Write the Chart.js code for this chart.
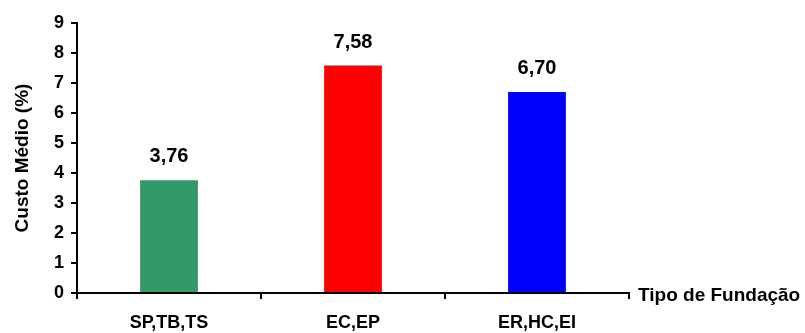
<!DOCTYPE html>
<html>
<head>
<meta charset="utf-8">
<script src="https://cdn.jsdelivr.net/npm/chart.js@4.4.0/dist/chart.umd.min.js"></script>
<style>
  html, body { margin: 0; padding: 0; background: #fff; }
  #wrap { width: 805px; height: 333px; position: relative; }
</style>
</head>
<body>
<div id="wrap"><canvas id="myChart" width="805" height="333"></canvas></div>
<script>
const categories = ['SP,TB,TS', 'EC,EP', 'ER,HC,EI'];
const custoMedio = [3.76, 7.58, 6.70];
const barColors = ['#339966', '#ff0000', '#0000ff'];
const yTicks = [0, 1, 2, 3, 4, 5, 6, 7, 8, 9];
const yTitle = 'Custo Médio (%)';
const xTitle = 'Tipo de Fundação';

const FONT = 'Arial, "Liberation Sans", sans-serif';

const valueLabels = {
    id: 'valueLabels',
    afterDatasetsDraw(chart) {
        const ctx = chart.ctx;
        const meta = chart.getDatasetMeta(0);
        ctx.save();
        ctx.font = 'bold 20px ' + FONT;
        ctx.fillStyle = '#000';
        ctx.textAlign = 'center';
        ctx.textBaseline = 'alphabetic';
        meta.data.forEach(function(bar, i) {
            const txt = custoMedio[i].toFixed(2).replace('.', ',');
            ctx.fillText(txt, bar.x, bar.y - 18);
        });
        ctx.restore();
    }
};

const xAxisTitle = {
    id: 'xAxisTitle',
    afterDraw(chart) {
        const ctx = chart.ctx;
        const area = chart.chartArea;
        ctx.save();
        ctx.font = 'bold 19px ' + FONT;
        ctx.fillStyle = '#000';
        ctx.textAlign = 'left';
        ctx.textBaseline = 'middle';
        ctx.fillText(xTitle, area.right + 9, area.bottom + 3);
        ctx.restore();
    }
};

new Chart(document.getElementById('myChart').getContext('2d'), {
    type: 'bar',
    data: {
        labels: categories,
        datasets: [{
            data: custoMedio,
            backgroundColor: barColors,
            borderWidth: 0,
            categoryPercentage: 1,
            barPercentage: 0.314
        }]
    },
    options: {
        responsive: false,
        animation: false,
        devicePixelRatio: 1,
        layout: { padding: { top: 23, right: 176, left: 0, bottom: 0 } },
        plugins: {
            legend: { display: false },
            tooltip: { enabled: false }
        },
        scales: {
            x: {
                grid: { drawOnChartArea: false, drawTicks: true, tickLength: 6, color: '#000', lineWidth: 2, offset: true },
                border: { display: true, color: '#000', width: 2 },
                ticks: { color: '#000', font: { family: FONT, size: 18, weight: 'bold' }, padding: 13, maxRotation: 0 },
                afterFit(scale) { scale.height = 40; }
            },
            y: {
                min: 0,
                max: 9,
                afterBuildTicks(scale) { scale.ticks = yTicks.map(v => ({ value: v })); },
                grid: { drawOnChartArea: false, drawTicks: true, tickLength: 6, color: '#000', lineWidth: 2 },
                border: { display: true, color: '#000', width: 2 },
                ticks: { color: '#000', font: { family: FONT, size: 18, weight: 'bold' }, padding: 7 },
                title: { display: true, text: yTitle, color: '#000', font: { family: FONT, size: 19, weight: 'bold' }, padding: { top: 11, bottom: 0 } },
                afterFit(scale) { scale.width = 77; }
            }
        }
    },
    plugins: [valueLabels, xAxisTitle]
});
</script>
</body>
</html>
